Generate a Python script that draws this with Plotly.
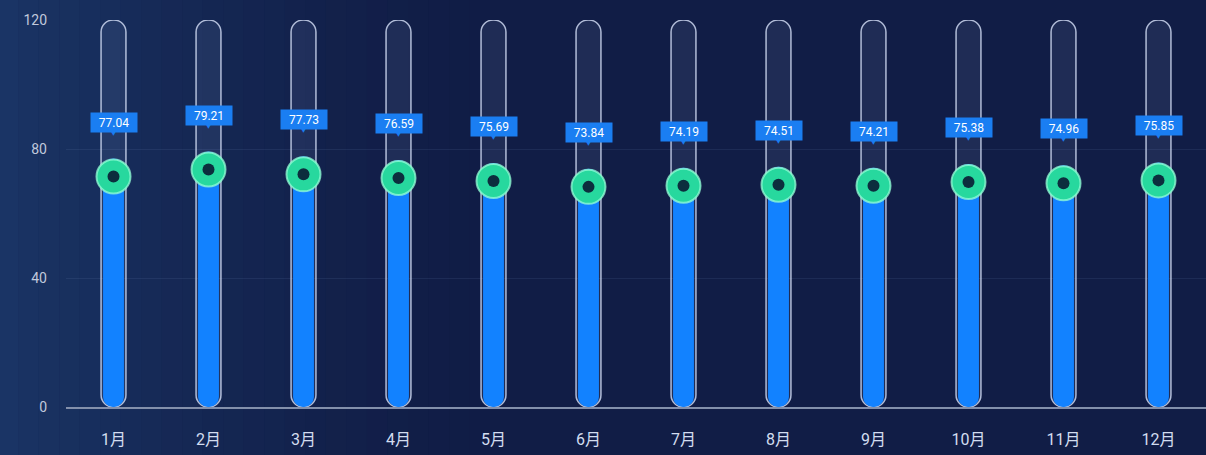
import plotly.graph_objects as go

months = ["1月", "2月", "3月", "4月", "5月", "6月",
          "7月", "8月", "9月", "10月", "11月", "12月"]
values = [77.04, 79.21, 77.73, 76.59, 75.69, 73.84,
          74.19, 74.51, 74.21, 75.38, 74.96, 75.85]
track_max = 120
y_ticks = [0, 40, 80, 120]

idx = list(range(len(months)))
zeros = [0] * len(months)

fig = go.Figure()

# background track (a bar with an explicit base gets both ends rounded)
fig.add_trace(go.Bar(
    x=idx, y=[track_max] * len(months), base=zeros, width=0.262,
    marker=dict(color="rgba(160,180,230,0.10)",
                line=dict(color="rgba(205,215,240,0.85)", width=1.5),
                cornerradius=12),
    hoverinfo="skip", showlegend=False,
))

# blue value bar
fig.add_trace(go.Bar(
    x=idx, y=values, base=zeros, width=0.22,
    marker=dict(color="#1282ff", line=dict(width=0), cornerradius=10),
    showlegend=False,
))

label_font = dict(size=12, color="#ffffff",
                  family="Liberation Sans Narrow, Roboto, sans-serif")

# green knob hanging just under the value, and the value label above it
for i, v in zip(idx, values):
    fig.add_shape(type="circle", xref="x", yref="y",
                  xsizemode="pixel", ysizemode="pixel",
                  xanchor=i, yanchor=v, x0=-17, x1=17, y0=-35, y1=-1,
                  fillcolor="#27d89e",
                  line=dict(color="rgba(150,255,215,0.75)", width=2))
    fig.add_shape(type="circle", xref="x", yref="y",
                  xsizemode="pixel", ysizemode="pixel",
                  xanchor=i, yanchor=v, x0=-6, x1=6, y0=-24, y1=-12,
                  fillcolor="#0c2e3e", line=dict(width=0))
    # small pointer under the label box
    fig.add_annotation(x=i, y=v, text="▼", showarrow=False,
                       yanchor="bottom", yshift=20,
                       font=dict(size=7, color="#1a7ef2"))
    fig.add_annotation(x=i, y=v, text=f"{v:.2f}", showarrow=False,
                       yanchor="bottom", yshift=26,
                       width=42, height=15, borderpad=2,
                       bgcolor="#1a7ef2", font=label_font)

# soft lighter glow on the left side of the background
n_strips = 24
for k in range(n_strips):
    fig.add_shape(type="rect", xref="paper", yref="paper", layer="below",
                  x0=-0.06 + k * 0.018, x1=-0.06 + (k + 1) * 0.018,
                  y0=-0.2, y1=1.1,
                  fillcolor="#2c62a0", opacity=0.34 * (1 - k / n_strips) ** 1.6,
                  line=dict(width=0))

fig.update_layout(
    width=1206, height=455,
    margin=dict(l=66, r=0, t=20, b=48),
    barmode="overlay",
    paper_bgcolor="#111d46",
    plot_bgcolor="rgba(0,0,0,0)",
    font=dict(family="Roboto, Noto Sans CJK SC, sans-serif"),
    xaxis=dict(
        tickmode="array", tickvals=idx, ticktext=months,
        range=[-0.5, len(months) - 0.5],
        showline=True, linecolor="#8390ab", linewidth=1.5,
        showgrid=False, zeroline=False, ticks="",
        tickfont=dict(size=16, color="#d3ddf0",
                      family="Roboto, Noto Sans CJK SC, sans-serif"),
        ticklabelstandoff=17,
    ),
    yaxis=dict(
        range=[0, track_max], tickvals=y_ticks,
        showgrid=True, gridcolor="rgba(120,150,200,0.12)", gridwidth=1,
        zeroline=False, showline=False, ticks="",
        tickfont=dict(size=14, color="#c0c9dc"),
        ticklabelstandoff=18,
    ),
)

fig.write_html("out.html", config={"displayModeBar": False},
               post_script="document.body.style.margin='0';")
